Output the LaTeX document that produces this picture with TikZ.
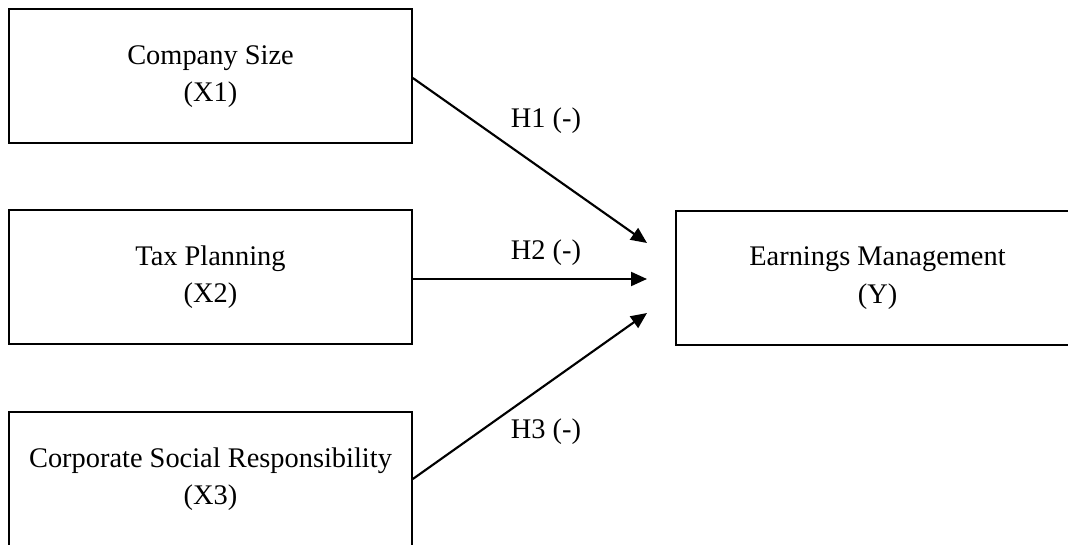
\documentclass[tikz,border=0pt]{standalone}
\usepackage{fontspec}
\setmainfont{Liberation Serif}
\usetikzlibrary{arrows.meta}
\begin{document}
\begin{tikzpicture}[x=0.75pt,y=-0.75pt,
  box/.style={draw=black,line width=1.5pt,minimum width=302pt,minimum height=100.5pt,align=center,inner sep=0pt,font=\fontsize{21.3}{28}\selectfont},
  lbl/.style={font=\fontsize{21.3}{28}\selectfont,inner sep=0pt},
  conn/.style={line width=1.6pt,-{Triangle[length=12pt,width=10.5pt]}}]
\useasboundingbox (0,0) rectangle (1068,545);
\begin{scope}
\clip (0,0) rectangle (1068,545);
\node[box] (x1) at (210.5,76.5) {Company Size\\(X1)};
\node[box] (x2) at (210.5,277) {Tax Planning\\(X2)};
\node[box] (x3) at (210.5,479) {Corporate Social Responsibility\\(X3)};
\node[box] (y) at (877.5,278) {Earnings Management\\(Y)};
\end{scope}
\coordinate (t1) at (647,243);
\coordinate (t2) at (647,279);
\coordinate (t3) at (647,313);
\draw[conn] (x1.east |- 0,78) -- (t1);
\draw[conn] (x2.east |- 0,279) -- (t2);
\draw[conn] (x3.east |- 0,479) -- (t3);
\node[lbl] (h1) at (546,121) {H1 (-)};
\node[lbl] (h2) at (546,253) {H2 (-)};
\node[lbl] (h3) at (546,432) {H3 (-)};
\end{tikzpicture}
\end{document}
